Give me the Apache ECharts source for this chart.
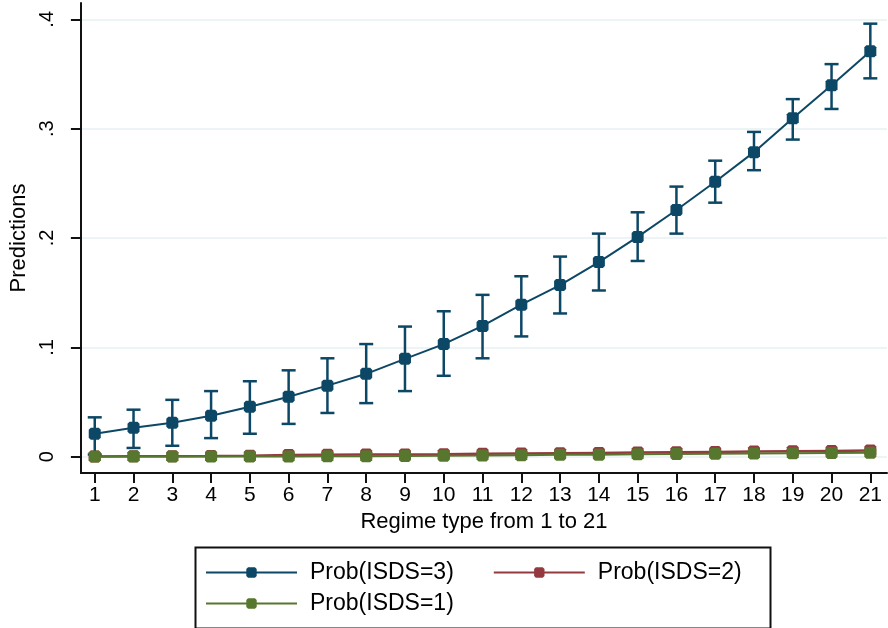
<!DOCTYPE html>
<html>
<head>
<meta charset="utf-8">
<script src="https://cdn.jsdelivr.net/npm/echarts@6/dist/echarts.min.js"></script>
<style>
html,body{margin:0;padding:0;background:#fff;}
#chart{width:888px;height:628px;}
</style>
</head>
<body>
<div id="chart"></div>
<script>
// ---- data ----
const regimes = [1,2,3,4,5,6,7,8,9,10,11,12,13,14,15,16,17,18,19,20,21];
const xTickLabels = [1,2,3,4,5,6,7,8,9,10,11,12,13,14,15,16,17,18,19,20,21];
const yTickValues = [0, 0.1, 0.2, 0.3, 0.4];
const yTickLabels = ['0', '.1', '.2', '.3', '.4'];
const prob3 = [0.021,0.0265,0.031,0.0374,0.0457,0.0548,0.065,0.0758,0.0895,0.103,0.1196,0.139,0.157,0.178,0.201,0.2256,0.2515,0.2785,0.3096,0.3397,0.3708];
const prob3Upper = [0.036,0.043,0.052,0.060,0.069,0.079,0.090,0.103,0.119,0.133,0.148,0.165,0.183,0.204,0.2235,0.247,0.2707,0.297,0.327,0.359,0.396];
const prob3Lower = [0.002,0.008,0.010,0.017,0.021,0.030,0.040,0.049,0.060,0.074,0.090,0.110,0.131,0.152,0.179,0.204,0.2323,0.262,0.290,0.318,0.346];
const prob2 = [0.0003,0.0004,0.0005,0.0006,0.0008,0.0015,0.0018,0.002,0.0021,0.0023,0.0026,0.0029,0.0032,0.0035,0.0038,0.0041,0.0044,0.0047,0.005,0.0053,0.0056];
const prob1 = [0.0001,0.0001,0.0001,0.0001,0.0002,0.0003,0.0004,0.0005,0.0007,0.0009,0.0011,0.0014,0.0017,0.0019,0.0022,0.0025,0.0028,0.003,0.0032,0.0035,0.0037];
const seriesNames = ['Prob(ISDS=3)', 'Prob(ISDS=2)', 'Prob(ISDS=1)'];
const xTitle = 'Regime type from 1 to 21';
const yTitle = 'Predictions';

const cBlue = '#0d4766', cRed = '#943a3f', cGreen = '#56772d';
const marker = 'path://M2,0 L10,0 L12,2 L12,10 L10,12 L2,12 L0,10 L0,2 Z';
const FONT = 'Liberation Sans, Arial, sans-serif';

const chart = echarts.init(document.getElementById('chart'), null, {renderer: 'canvas'});

const ciData = regimes.map((r, i) => [r, prob3Lower[i], prob3Upper[i]]);

chart.setOption({
  animation: false,
  backgroundColor: '#fff',
  textStyle: {fontFamily: FONT, color: '#000'},
  grid: {left: 71, right: 1, top: 3, bottom: 155, containLabel: false},
  xAxis: {
    type: 'value',
    min: 0.643, max: 21.43,
    name: xTitle,
    nameLocation: 'middle',
    nameGap: 37,
    nameTextStyle: {fontSize: 22, color: '#000', fontFamily: FONT},
    axisLine: {show: true, onZero: false, lineStyle: {color: '#111', width: 2}},
    axisTick: {show: true, length: 10, lineStyle: {color: '#111', width: 2}, customValues: xTickLabels},
    axisLabel: {fontSize: 21, color: '#000', margin: 12, customValues: xTickLabels, formatter: v => String(v)},
    splitLine: {show: false}
  },
  yAxis: {
    type: 'value',
    min: -0.0149, max: 0.4149,
    name: yTitle,
    nameLocation: 'middle',
    nameGap: 46,
    nameTextStyle: {fontSize: 22, color: '#000', fontFamily: FONT},
    axisLine: {show: true, onZero: false, lineStyle: {color: '#111', width: 2}},
    axisTick: {show: true, length: 10, lineStyle: {color: '#111', width: 2}, customValues: yTickValues},
    axisLabel: {fontSize: 20, color: '#000', rotate: 90, margin: 23, customValues: yTickValues,
      formatter: v => { const i = yTickValues.findIndex(t => Math.abs(t - v) < 1e-9); return i >= 0 ? yTickLabels[i] : ''; }},
    splitLine: {show: true, lineStyle: {color: '#e6f0f2', width: 1.5}}
  },
  legend: [
    {
      data: [seriesNames[0], seriesNames[1]],
      left: 205, top: 561, orient: 'horizontal',
      itemWidth: 91, itemHeight: 13, itemGap: 39, padding: 0,
      textStyle: {fontSize: 23, color: '#000', fontFamily: FONT, padding: [0, 0, 0, 8]}
    },
    {
      data: [seriesNames[2]],
      left: 205, top: 592, orient: 'horizontal',
      itemWidth: 91, itemHeight: 13, itemGap: 39, padding: 0,
      textStyle: {fontSize: 23, color: '#000', fontFamily: FONT, padding: [0, 0, 0, 8]}
    }
  ],
  graphic: [{
    type: 'rect', left: 193, top: 545,
    shape: {x: 0, y: 0, width: 575, height: 81},
    style: {fill: 'none', stroke: '#111', lineWidth: 2}, silent: true
  }],
  series: [
    {
      name: seriesNames[0], type: 'line',
      data: regimes.map((r, i) => [r, prob3[i]]),
      symbol: marker, symbolSize: 12, showSymbol: true,
      lineStyle: {color: cBlue, width: 2}, itemStyle: {color: cBlue}, z: 5
    },
    {
      name: 'ci3', type: 'custom',
      data: ciData,
      renderItem: function (params, api) {
        const x = api.value(0);
        const lo = api.coord([x, api.value(1)]);
        const hi = api.coord([x, api.value(2)]);
        const hw = 7;
        const st = {stroke: cBlue, lineWidth: 2.5, fill: null};
        return {
          type: 'group',
          children: [
            {type: 'line', shape: {x1: lo[0], y1: lo[1], x2: hi[0], y2: hi[1]}, style: st},
            {type: 'line', shape: {x1: hi[0] - hw, y1: hi[1], x2: hi[0] + hw, y2: hi[1]}, style: st},
            {type: 'line', shape: {x1: lo[0] - hw, y1: lo[1], x2: lo[0] + hw, y2: lo[1]}, style: st}
          ]
        };
      },
      z: 4, silent: true
    },
    {
      name: seriesNames[1], type: 'line',
      data: regimes.map((r, i) => [r, prob2[i]]),
      symbol: marker, symbolSize: 12, showSymbol: true,
      lineStyle: {color: cRed, width: 2.5}, itemStyle: {color: cRed}, z: 3
    },
    {
      name: seriesNames[2], type: 'line',
      data: regimes.map((r, i) => [r, prob1[i]]),
      symbol: marker, symbolSize: 12, showSymbol: true,
      lineStyle: {color: cGreen, width: 2}, itemStyle: {color: cGreen}, z: 4
    }
  ]
});
</script>
</body>
</html>
